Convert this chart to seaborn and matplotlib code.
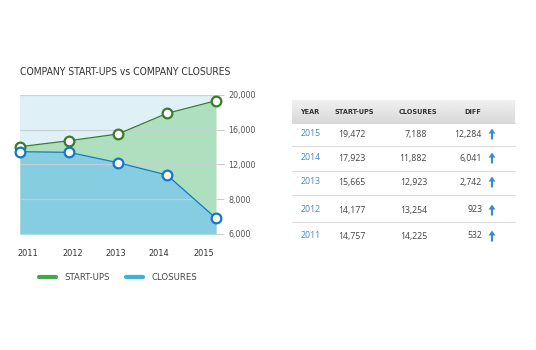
import numpy as np
import pandas as pd
import matplotlib
matplotlib.use("Agg")
import matplotlib.pyplot as plt
from matplotlib import font_manager
from matplotlib.font_manager import FontProperties
from matplotlib.lines import Line2D
from matplotlib.transforms import ScaledTranslation
import seaborn as sns

# ---- data ----
years = [2011, 2012, 2013, 2014, 2015]
startups = [14050, 14740, 15510, 17890, 19340]
closures = [13475, 13400, 12210, 10790, 5810]
y_ticks = [4000, 8000, 12000, 16000, 20000]
y_tick_labels = ["6,000", "8,000", "12,000", "16,000", "20,000"]

table_years = [2015, 2014, 2013, 2012, 2011]
table_startups = [19472, 17923, 15665, 14177, 14757]
table_closures = [7188, 11882, 12923, 13254, 14225]
table_headers = ["YEAR", "START-UPS", "CLOSURES", "DIFF"]

title = "COMPANY START-UPS vs COMPANY CLOSURES"
series_names = ["START-UPS", "CLOSURES"]

# ---- style ----
sns.set_theme(style="white")
plt.rcParams["font.family"] = ["DejaVu Sans"]

def find_font(cands, bold=False):
    fl = font_manager.fontManager.ttflist
    for c in cands:
        for f in fl:
            fn = f.fname.replace("\\", "/").split("/")[-1]
            if c.lower() in fn.lower():
                low = fn.lower()
                if "italic" in low or "oblique" in low:
                    continue
                isbold = "bold" in low
                if isbold == bold:
                    return f.fname
    return None

cond_path = find_font(["LiberationSansNarrow-Regular", "LiberationSansNarrow", "DejaVuSansCondensed.", "DejaVuSansCondensed"])
condb_path = find_font(["LiberationSansNarrow-Bold", "DejaVuSansCondensed-Bold"], bold=True)

def cfp(size, bold=False):
    p = condb_path if bold else cond_path
    if p:
        return FontProperties(fname=p, size=size)
    return FontProperties(family="DejaVu Sans", size=size, weight="bold" if bold else "normal")

GREEN_LINE = "#3a7b2c"
BLUE_LINE = "#1677c4"
GREEN_FILL = "#aedfbf"
BLUE_FILL = "#87cde2"
BG = "#dff1f6"
LEG_GREEN = "#45a64a"
LEG_BLUE = "#3cb2d8"

W, H = 536, 350
fig = plt.figure(figsize=(W / 100, H / 100), dpi=100)

def fx(px):
    return px / W

def fy(py):
    return 1 - py / H

ax = fig.add_axes([fx(20), fy(234), fx(216) - fx(20), fy(95) - fy(234)])
ax.set_facecolor(BG)

df = pd.DataFrame({"year": years, "START-UPS": startups, "CLOSURES": closures})
long = df.melt(id_vars="year", var_name="series", value_name="value")

ax.fill_between(df["year"], y_ticks[0], df["START-UPS"], color=GREEN_FILL, lw=0, zorder=1)
ax.fill_between(df["year"], y_ticks[0], df["CLOSURES"], color=BLUE_FILL, lw=0, zorder=1.5)

ax.set_yticks(y_ticks)
ax.set_yticklabels(y_tick_labels)
ax.grid(axis="y", color="#c9cfd2", lw=0.9, alpha=0.9, zorder=2)
ax.set_axisbelow(False)

sns.lineplot(data=long, x="year", y="value", hue="series",
             palette={"START-UPS": GREEN_LINE, "CLOSURES": BLUE_LINE},
             marker="o", markersize=7, markerfacecolor="white",
             markeredgewidth=1.6, lw=0.9, ax=ax, legend=False, zorder=5)
for ln, c in zip(ax.lines, [GREEN_LINE, BLUE_LINE]):
    ln.set_clip_on(False)
    ln.set_markeredgecolor(c)

ax.set_xlim(years[0], years[-1])
ax.set_ylim(y_ticks[0], y_ticks[-1])
ax.set_xticks(years)
ax.set_xticklabels([str(y) for y in years])
ax.set_xlabel("")
ax.set_ylabel("")
for s in ax.spines.values():
    s.set_visible(False)
ax.yaxis.tick_right()
ax.tick_params(axis="y", length=6, width=0.8, color="#cccccc", pad=3,
               labelcolor="#555555", right=True, left=False)
ax.tick_params(axis="x", length=0, pad=11, labelcolor="#333333")
for lbl in ax.get_yticklabels():
    lbl.set_fontproperties(cfp(6.4))
x_label_shift = [8, 4, -2, -8, -12]
for lbl, dx in zip(ax.get_xticklabels(), x_label_shift):
    lbl.set_fontproperties(cfp(6.6))
    lbl.set_transform(lbl.get_transform() + ScaledTranslation(dx / 100, 0, fig.dpi_scale_trans))

fig.text(fx(20), fy(72), title, fontproperties=cfp(7.4), color="#333333", va="center", ha="left")

handles = [Line2D([], [], color=LEG_GREEN, lw=3), Line2D([], [], color=LEG_BLUE, lw=3)]
leg = fig.legend(handles, series_names, loc="center left", bbox_to_anchor=(fx(39), fy(278)),
                 ncol=2, frameon=False, prop=cfp(6.8), handlelength=1.8, handletextpad=0.9,
                 columnspacing=1.7, borderpad=0, borderaxespad=0, labelcolor="#444444")

# ---- table ----
tx = fig.add_axes([0, 0, 1, 1], zorder=-1)
tx.set_xlim(0, W)
tx.set_ylim(H, 0)
tx.axis("off")

grad = np.linspace(0, 1, 50).reshape(-1, 1)
tx.imshow(grad, extent=[292, 515, 123, 100],
          cmap=matplotlib.colors.LinearSegmentedColormap.from_list("g", ["#f1f1f1", "#d9d9d9"]),
          aspect="auto", zorder=0)
tx.plot([292, 515], [123, 123], color="#cfcfcf", lw=0.6)

hx = [310, 354, 418, 473]
for h, x in zip(table_headers, hx):
    tx.text(x, 112, h, ha="center", va="center", fontproperties=cfp(5.2, bold=True), color="#333333")

row_y = [134, 158, 182, 210, 236]
sep_y = [146, 171, 195, 222]
for y in sep_y:
    tx.plot([292, 515], [y, y], color="#dddddd", lw=0.8)

tfont = ["Open Sans", "DejaVu Sans"]
for yr, s, c, y in zip(table_years, table_startups, table_closures, row_y):
    tx.text(301, y, str(yr), ha="left", va="center", fontsize=6.3, color="#3c8bd0", family=tfont)
    tx.text(338, y, f"{s:,}", ha="left", va="center", fontsize=6.3, color="#444444", family=tfont)
    tx.text(427, y, f"{c:,}", ha="right", va="center", fontsize=6.3, color="#444444", family=tfont)
    tx.text(482, y, f"{s - c:,}", ha="right", va="center", fontsize=6.3, color="#444444", family=tfont)
    tx.arrow(492, y + 5.5, 0, -11, width=2.2, head_width=7, head_length=5,
             length_includes_head=True, color="#3c8bd0", lw=0)

fig.savefig("out.png", dpi=100, facecolor="white")
